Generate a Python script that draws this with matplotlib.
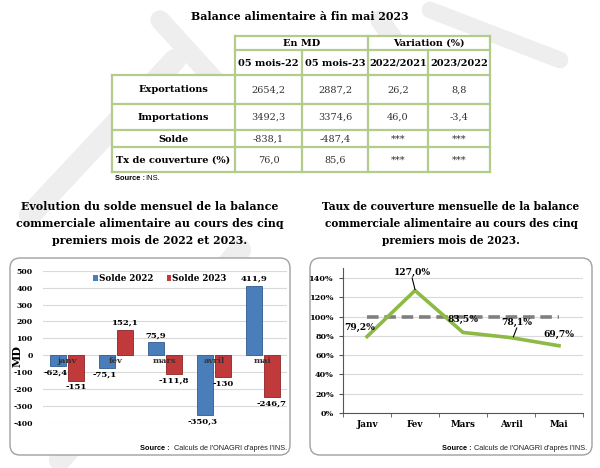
import matplotlib
matplotlib.use("Agg")
import matplotlib.pyplot as plt
from matplotlib.patches import FancyBboxPatch, Rectangle, Patch
import numpy as np

plt.rcParams["axes.unicode_minus"] = False

# ---------------- data ----------------
table_title = "Balance alimentaire à fin mai 2023"
row_labels = ["Exportations", "Importations", "Solde", "Tx de couverture (%)"]
col_headers = ["05 mois-22", "05 mois-23", "2022/2021", "2023/2022"]
val_2022 = [2654.2, 3492.3, -838.1, 76.0]
val_2023 = [2887.2, 3374.6, -487.4, 85.6]
var_2022_2021 = ["26,2", "46,0", "***", "***"]
var_2023_2022 = ["8,8", "-3,4", "***", "***"]

months_bar = ["janv", "fév", "mars", "avril", "mai"]
solde_2022 = [-62.4, -75.1, 75.9, -350.3, 411.9]
solde_2023 = [-151.0, 152.1, -111.8, -130.0, -246.7]

months_line = ["Janv", "Fev", "Mars", "Avril", "Mai"]
taux_couv = [79.2, 127.0, 83.5, 78.1, 69.7]
seuil = [100, 100, 100, 100, 100]

def fr(v, dec=1):
    return f"{v:.{dec}f}".replace(".", ",")

W, H = 600, 468
fig = plt.figure(figsize=(6, 4.68), dpi=100)
fig.patch.set_facecolor("white")

bg = fig.add_axes([0, 0, 1, 1], zorder=0)
bg.set_xlim(0, W)
bg.set_ylim(H, 0)
bg.axis("off")

SERIF = "DejaVu Serif"
SANS = "Liberation Sans"
green = "#b3cb8b"

# ---- watermark (faint strokes) ----
wm = "#eeeeee"
for (x0, y0, x1, y1, lw) in [(30, 215, 175, 60, 16), (60, 460, 240, 250, 16),
                              (160, 20, 260, 130, 14), (380, 20, 470, 150, 14),
                              (430, 10, 560, 60, 12)]:
    bg.plot([x0, x1], [y0, y1], color=wm, lw=lw, solid_capstyle="round", zorder=0)

# ---- table ----
bg.text(300, 17, table_title, ha="center", va="center", fontsize=7.9,
        fontweight="bold", family=SERIF)
cx = [112, 235, 302, 368, 428, 490]
ry = [36, 50, 75, 104, 130, 147, 172]
bg.add_patch(Rectangle((cx[1], ry[0]), cx[5] - cx[1], ry[2] - ry[0], fc="white", ec="none", zorder=1))
bg.add_patch(Rectangle((cx[0], ry[2]), cx[5] - cx[0], ry[6] - ry[2], fc="white", ec="none", zorder=1))
lw_t = 1.6
bg.plot([cx[1], cx[5]], [ry[0], ry[0]], color=green, lw=lw_t, zorder=2)
bg.plot([cx[1], cx[5]], [ry[1], ry[1]], color=green, lw=lw_t, zorder=2)
for y in ry[2:]:
    bg.plot([cx[0], cx[5]], [y, y], color=green, lw=lw_t, zorder=2)
bg.plot([cx[0], cx[0]], [ry[2], ry[6]], color=green, lw=lw_t, zorder=2)
bg.plot([cx[1], cx[1]], [ry[0], ry[6]], color=green, lw=lw_t, zorder=2)
bg.plot([cx[2], cx[2]], [ry[1], ry[6]], color=green, lw=lw_t, zorder=2)
bg.plot([cx[3], cx[3]], [ry[0], ry[6]], color=green, lw=lw_t, zorder=2)
bg.plot([cx[4], cx[4]], [ry[1], ry[6]], color=green, lw=lw_t, zorder=2)
bg.plot([cx[5], cx[5]], [ry[0], ry[6]], color=green, lw=lw_t, zorder=2)

fs_t = 7.0
bg.text((cx[1] + cx[3]) / 2, (ry[0] + ry[1]) / 2 + 0.5, "En MD", ha="center", va="center",
        fontsize=fs_t, fontweight="bold", family=SERIF, zorder=3)
bg.text((cx[3] + cx[5]) / 2, (ry[0] + ry[1]) / 2 + 0.5, "Variation (%)", ha="center", va="center",
        fontsize=fs_t, fontweight="bold", family=SERIF, zorder=3)
for j, h in enumerate(col_headers):
    bg.text((cx[j + 1] + cx[j + 2]) / 2, (ry[1] + ry[2]) / 2 + 1, h, ha="center", va="center",
            fontsize=fs_t, fontweight="bold", family=SERIF, zorder=3)
cols = [[fr(v) for v in val_2022], [fr(v) for v in val_2023], var_2022_2021, var_2023_2022]
for i, lab in enumerate(row_labels):
    yc = (ry[i + 2] + ry[i + 3]) / 2 + 0.5
    bg.text((cx[0] + cx[1]) / 2, yc, lab, ha="center", va="center",
            fontsize=fs_t, fontweight="bold", family=SERIF, zorder=3)
    for j in range(4):
        bg.text((cx[j + 1] + cx[j + 2]) / 2, yc, cols[j][i], ha="center", va="center",
                fontsize=fs_t, family=SERIF, color="#333333", zorder=3)
bg.text(115, 178, "Source :", ha="left", va="center", fontsize=5.4, fontweight="bold", family=SANS)
bg.text(145, 178, "INS.", ha="left", va="center", fontsize=5.4, family=SANS)

# ---- chart titles ----
left_title = ["Evolution du solde mensuel de la balance",
              "commerciale alimentaire au cours des cinq",
              "premiers mois de 2022 et 2023."]
right_title = ["Taux de couverture mensuelle de la balance",
               "commerciale alimentaire au cours des cinq",
               "premiers mois de 2023."]
for k, (l1, l2) in enumerate(zip(left_title, right_title)):
    y = 207 + k * 16.5
    bg.text(150, y, l1, ha="center", va="center", fontsize=7.9, fontweight="bold", family=SERIF)
    bg.text(451, y, l2, ha="center", va="center", fontsize=7.6, fontweight="bold", family=SERIF)

# ---- rounded boxes ----
for (x0, x1) in [(10, 290), (310, 592)]:
    bg.add_patch(FancyBboxPatch((x0, 258), x1 - x0, 197, boxstyle="round,pad=0,rounding_size=10",
                                fc="white", ec="#a0a0a0", lw=1.0, zorder=1))

for xs, xr in [(140, 287), (442, 587)]:
    bg.text(xr, 449, "Calculs de l'ONAGRI d'après l'INS.", ha="right", va="center",
            fontsize=5.3, family=SANS, color="#222222", zorder=3)
    bg.text(xs, 449, "Source :", ha="left", va="center",
            fontsize=5.3, fontweight="bold", family=SANS, zorder=3)

# ---------------- left bar chart ----------------
axL = fig.add_axes([43 / W, 1 - 423 / H, 244 / W, 152.3 / H], zorder=2)
axL.patch.set_alpha(0)
x = np.arange(len(months_bar))
bw = 0.33
off = 0.185
axL.bar(x - off, solde_2022, bw, color="#4a7ebb", edgecolor="#2f5a8f", lw=0.6, zorder=3)
axL.bar(x + off, solde_2023, bw, color="#c0393b", edgecolor="#8c2426", lw=0.6, zorder=3)
axL.set_xlim(-0.5, 4.5)
axL.set_ylim(-400, 500)
axL.set_yticks(np.arange(-400, 501, 100))
axL.grid(axis="y", color="#d9d9d9", lw=0.8, zorder=0)
for s in axL.spines.values():
    s.set_visible(False)
axL.tick_params(axis="y", length=0, labelsize=5.6, pad=7.5)
for t in axL.get_yticklabels():
    t.set_fontweight("bold")
    t.set_family(SERIF)
axL.set_xticks([])
for i, m in enumerate(months_bar):
    axL.text(x[i], -8, m, ha="center", va="top", fontsize=6.0, fontweight="bold",
             family=SERIF, color="#333333", zorder=4)
axL.set_ylabel("MD", fontsize=8, fontweight="bold", family=SERIF)
axL.yaxis.set_label_coords(-0.085, 0.44)

lbl_kw = dict(fontsize=6.1, fontweight="bold", family=SERIF, zorder=5, clip_on=False)
for i, v in enumerate(solde_2022):
    if v >= 0:
        axL.text(x[i] - off, v + 15, fr(v), ha="center", va="bottom", **lbl_kw)
    else:
        axL.text(x[i] - off - 0.05, v - 15, fr(v), ha="center", va="top", **lbl_kw)
for i, v in enumerate(solde_2023):
    s = fr(v) if abs(v - round(v)) > 1e-9 else str(int(round(v)))
    if v >= 0:
        axL.text(x[i] + off, v + 15, s, ha="center", va="bottom", **lbl_kw)
    else:
        axL.text(x[i] + off, v - 15, s, ha="center", va="top", **lbl_kw)

axL.legend([Patch(fc="#4a7ebb"), Patch(fc="#c0393b")], ["Solde 2022", "Solde 2023"],
           loc="upper center", bbox_to_anchor=(0.48, 1.03), ncol=2, frameon=False,
           handlelength=0.55, handleheight=0.6, handletextpad=0.1, columnspacing=1.5,
           prop={"family": SERIF, "weight": "bold", "size": 6.3})

# ---------------- right line chart ----------------
axR = fig.add_axes([343 / W, 1 - 413 / H, 240 / W, 144.7 / H], zorder=2)
axR.patch.set_alpha(0)
xr_ = np.arange(len(months_line))
axR.plot(xr_, seuil, color="#7f7f7f", lw=2.6, dashes=(3.2, 1.6), zorder=3)
axR.plot(xr_, taux_couv, color="#8cba45", lw=2.6, zorder=4)
axR.set_xlim(-0.5, 4.5)
axR.set_ylim(0, 150)
axR.set_yticks(np.arange(0, 141, 20))
axR.set_yticklabels([f"{v}%" for v in range(0, 141, 20)])
axR.grid(axis="y", color="#d9d9d9", lw=0.8, zorder=0)
for k in ["top", "right"]:
    axR.spines[k].set_visible(False)
axR.spines["left"].set_color("#555555")
axR.spines["bottom"].set_color("#555555")
axR.tick_params(axis="y", length=3, direction="out", labelsize=5.8, color="#555555")
axR.set_xticks(xr_)
axR.set_xticklabels(months_line)
axR.set_xticks(np.arange(-0.5, 4.6, 1), minor=True)
axR.tick_params(axis="x", which="major", length=0, labelsize=6.3, pad=5)
axR.tick_params(axis="x", which="minor", length=3, color="#555555")
for t in axR.get_yticklabels() + axR.get_xticklabels():
    t.set_fontweight("bold")
    t.set_family(SERIF)

lk = dict(fontsize=6.6, fontweight="bold", family=SERIF, zorder=5)
lab_off = [(-0.15, 5), (-0.05, 14), (0.0, 8.5), (0.12, 11), (0.0, 7)]
for i, v in enumerate(taux_couv):
    dx, dy = lab_off[i]
    axR.text(xr_[i] + dx, v + dy, fr(v) + "%", ha="center", va="bottom", **lk)
axR.plot([xr_[1] - 0.06, xr_[1]], [taux_couv[1] + 13, taux_couv[1] + 1], color="black", lw=0.8, zorder=5)
axR.plot([xr_[3] + 0.12, xr_[3] + 0.05], [taux_couv[3] + 10, taux_couv[3] + 1], color="black", lw=0.8, zorder=5)

fig.savefig("out.png", dpi=100, facecolor="white")
